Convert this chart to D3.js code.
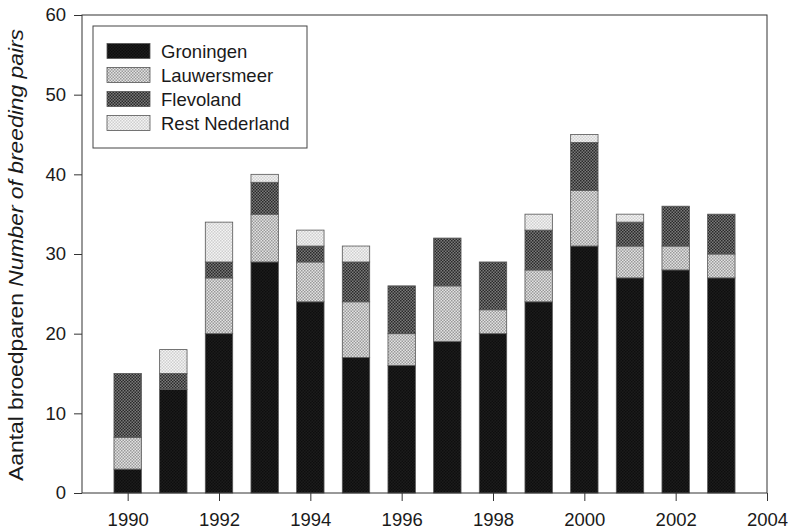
<!DOCTYPE html>
<html>
<head>
<meta charset="utf-8">
<script src="https://cdn.jsdelivr.net/npm/d3@7"></script>
<style>
  body { margin: 0; background: #fff; }
  text { font-family: "Liberation Sans", Arial, sans-serif; fill: #1a1a1a; }
</style>
</head>
<body>
<div id="chart"></div>
<script>
// breeding pairs per year and region
const years = [1990, 1991, 1992, 1993, 1994, 1995, 1996, 1997, 1998, 1999, 2000, 2001, 2002, 2003];
const groningen   = [3, 13, 20, 29, 24, 17, 16, 19, 20, 24, 31, 27, 28, 27];
const lauwersmeer = [4,  0,  7,  6,  5,  7,  4,  7,  3,  4,  7,  4,  3,  3];
const flevoland   = [8,  2,  2,  4,  2,  5,  6,  6,  6,  5,  6,  3,  5,  5];
const restNL      = [0,  3,  5,  1,  2,  2,  0,  0,  0,  2,  1,  1,  0,  0];
const seriesNames = ["Groningen", "Lauwersmeer", "Flevoland", "Rest Nederland"];
const yTicks = [0, 10, 20, 30, 40, 50, 60];
const xTicks = [1990, 1992, 1994, 1996, 1998, 2000, 2002, 2004];

const W = 788, H = 531;
const margin = {top: 15, right: 21, bottom: 38, left: 82};
const width = W - margin.left - margin.right;
const height = H - margin.top - margin.bottom;

const svg = d3.select("#chart").append("svg")
    .attr("width", W)
    .attr("height", H);

// checker textures like the printed fills
const defs = svg.append("defs");
const fills = [
    {id: "pG", a: "#0e0e0e", b: "#1c1c1c"},
    {id: "pL", a: "#9a9a9a", b: "#e2e2e2"},
    {id: "pF", a: "#2a2a2a", b: "#7a7a7a"},
    {id: "pR", a: "#cfcfcf", b: "#f4f4f4"}
];
fills.forEach(f => {
    const p = defs.append("pattern")
        .attr("id", f.id)
        .attr("width", 3).attr("height", 3)
        .attr("patternUnits", "userSpaceOnUse");
    p.append("rect").attr("width", 3).attr("height", 3).attr("fill", f.b);
    p.append("rect").attr("width", 1.5).attr("height", 1.5).attr("fill", f.a);
    p.append("rect").attr("x", 1.5).attr("y", 1.5).attr("width", 1.5).attr("height", 1.5).attr("fill", f.a);
});
const fillFor = d3.scaleOrdinal().domain(seriesNames).range(fills.map(f => "url(#" + f.id + ")"));

const g = svg.append("g")
    .attr("transform", "translate(" + margin.left + "," + margin.top + ")");

const xScale = d3.scaleLinear().domain([1989, 2004]).range([0, width]);
const yScale = d3.scaleLinear().domain([0, 60]).range([height, 0]);

// stack the series
const table = years.map((yr, i) => ({
    year: yr,
    "Groningen": groningen[i],
    "Lauwersmeer": lauwersmeer[i],
    "Flevoland": flevoland[i],
    "Rest Nederland": restNL[i]
}));
const stacked = d3.stack().keys(seriesNames)(table);

const barW = (xScale(1990) - xScale(1989)) * 0.6;

g.selectAll(".layer")
    .data(stacked)
    .join("g")
    .attr("class", "layer")
    .attr("fill", d => fillFor(d.key))
    .selectAll("rect")
    .data(d => d.filter(s => s[1] > s[0]))
    .join("rect")
    .attr("x", d => xScale(d.data.year) - barW / 2)
    .attr("y", d => yScale(d[1]))
    .attr("width", barW)
    .attr("height", d => yScale(d[0]) - yScale(d[1]))
    .attr("stroke", "#555")
    .attr("stroke-width", 0.8);

// frame
g.append("rect")
    .attr("width", width)
    .attr("height", height)
    .attr("fill", "none")
    .attr("stroke", "#333")
    .attr("stroke-width", 1);

// axes
const yAxis = g.append("g")
    .call(d3.axisLeft(yScale).tickValues(yTicks).tickSize(8).tickPadding(8));
const xAxis = g.append("g")
    .attr("transform", "translate(0," + height + ")")
    .call(d3.axisBottom(xScale).tickValues(xTicks).tickFormat(d3.format("d")).tickSize(8).tickPadding(12));
[yAxis, xAxis].forEach(a => {
    a.select(".domain").remove();
    a.selectAll(".tick line").attr("stroke", "#333");
    a.selectAll(".tick text")
        .style("font-family", "'Liberation Sans', Arial, sans-serif")
        .style("font-size", "18.5px")
        .attr("fill", "#1a1a1a");
});

// y axis title
const yTitle = svg.append("text")
    .attr("transform", "translate(23,255) rotate(-90)")
    .attr("text-anchor", "middle")
    .attr("textLength", 452)
    .attr("lengthAdjust", "spacingAndGlyphs")
    .style("font-size", "21px");
yTitle.append("tspan").text("Aantal broedparen ");
yTitle.append("tspan").style("font-style", "italic").text("Number of breeding pairs");

// legend
const legend = g.append("g")
    .attr("transform", "translate(" + (93 - margin.left) + "," + (26 - margin.top) + ")");
legend.append("rect")
    .attr("width", 214)
    .attr("height", 122)
    .attr("fill", "#fff")
    .attr("stroke", "#444")
    .attr("stroke-width", 1);
const item = legend.selectAll(".item")
    .data(seriesNames)
    .join("g")
    .attr("class", "item")
    .attr("transform", (d, i) => "translate(0," + (25 + i * 24) + ")");
item.append("rect")
    .attr("x", 14)
    .attr("y", -7.5)
    .attr("width", 43)
    .attr("height", 15)
    .attr("fill", d => fillFor(d))
    .attr("stroke", "#555")
    .attr("stroke-width", 0.8);
item.append("text")
    .attr("x", 68)
    .attr("dy", "0.36em")
    .style("font-size", "18.5px")
    .text(d => d);
</script>
</body>
</html>
